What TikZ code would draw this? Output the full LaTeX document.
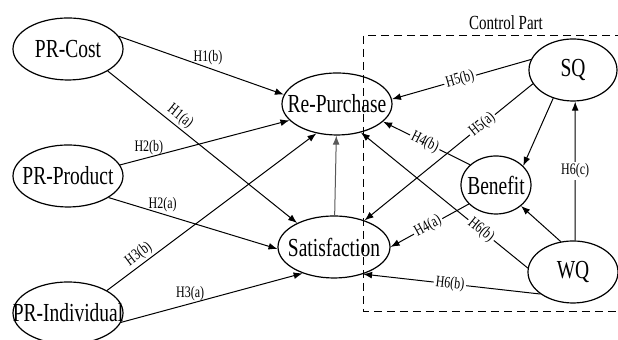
\documentclass[tikz,border=0pt]{standalone}
\usepackage{fontspec}
\setmainfont{Liberation Serif}[FakeStretch=0.75]
\usetikzlibrary{shapes.geometric,arrows.meta}

\begin{document}
\begin{tikzpicture}[x=0.5pt, y=-0.5pt, >={Latex[length=4.5pt,width=3.4pt]}]
  \tikzset{
    var_node/.style={ellipse, draw, line width=0.6pt, inner xsep=-12pt, inner ysep=0pt, minimum width=55pt, minimum height=31pt, font=\fontsize{13}{13}\selectfont},
    hyp/.style={font=\fontsize{8}{8}\selectfont, inner sep=1pt},
    hyp_cut/.style={hyp, fill=white, sloped},
    link/.style={->, line width=0.5pt}
  }
  \useasboundingbox (0,0) rectangle (618,340);

  % Parte de control (recuadro discontinuo)
  \draw[dash pattern=on 4pt off 2.5pt, line width=0.5pt] (364,36) rectangle (640,312);
  \node[font=\fontsize{10}{10}\selectfont] (ctrl) at (506,23) {Control Part};

  % Variables de riesgo percibido
  \node[var_node] (cost) at (68,49) {PR-Cost};
  \node[var_node] (prod) at (68,176) {PR-Product};
  \node[var_node] (indiv) at (68,313) {PR-Individual};

  % Variables dependientes
  \node[var_node] (rp) at (337,104) {Re-Purchase};
  \node[var_node, minimum width=56pt] (sat) at (334,247) {Satisfaction};

  % Variables de control
  \node[var_node, minimum width=44pt] (sq) at (573,70) {SQ};
  \node[var_node, minimum width=35pt, minimum height=29pt] (ben) at (496,185) {Benefit};
  \node[var_node, minimum width=45pt] (wq) at (573,272) {WQ};

  % Hipotesis H1-H3
  \draw[link] (cost.14) -- node[hyp, pos=0.54, above] (h1b) {H1(b)} (rp.170);
  \draw[link] (cost.-29) -- node[hyp, pos=0.35, above, sloped] (h1a) {H1(a)} (sat.147);
  \draw[link] (prod.12) -- node[hyp, pos=0.17, above] (h2b) {H2(b)} (rp.199);
  \draw[link] (prod.-28) -- node[hyp, pos=0.32, above] (h2a) {H2(a)} (sat.182);
  \draw[link] (indiv.30) -- node[hyp, pos=0.18, above, sloped] (h3b) {H3(b)} (rp.235);
  \draw[link] (indiv.-10) -- node[hyp, pos=0.38, above] (h3a) {H3(a)} (sat.220);

  % Satisfaccion hacia recompra
  \draw[link, black!65] (sat) -- (rp);

  % Hipotesis H4-H6
  \draw[link] (sq.166) -- node[hyp_cut, pos=0.51] (h5b) {H5(b)} (rp.5);
  \draw[link] (sq.199) -- node[hyp_cut, pos=0.3] (h5a) {H5(a)} (sat.41);
  \draw[link] (sq.235) -- (ben.35);
  \draw[link] (ben.142) -- node[hyp_cut, pos=0.52] (h4b) {H4(b)} (rp.339);
  \draw[link] (ben.215) -- node[hyp_cut, pos=0.52] (h4a) {H4(a)} (sat.0);
  \draw[link] (wq.175) -- node[hyp_cut, pos=0.28] (h6b) {H6(b)} (rp.310);
  \draw[link] (wq.214) -- node[hyp_cut, pos=0.51] (h6b_sat) {H6(b)} (sat.317);
  \draw[link] (wq.86) -- node[hyp, fill=white, pos=0.5] (h6c) {H6(c)} (sq.274);
  \draw[link] (wq.112) -- (ben.320);
\end{tikzpicture}
\end{document}
